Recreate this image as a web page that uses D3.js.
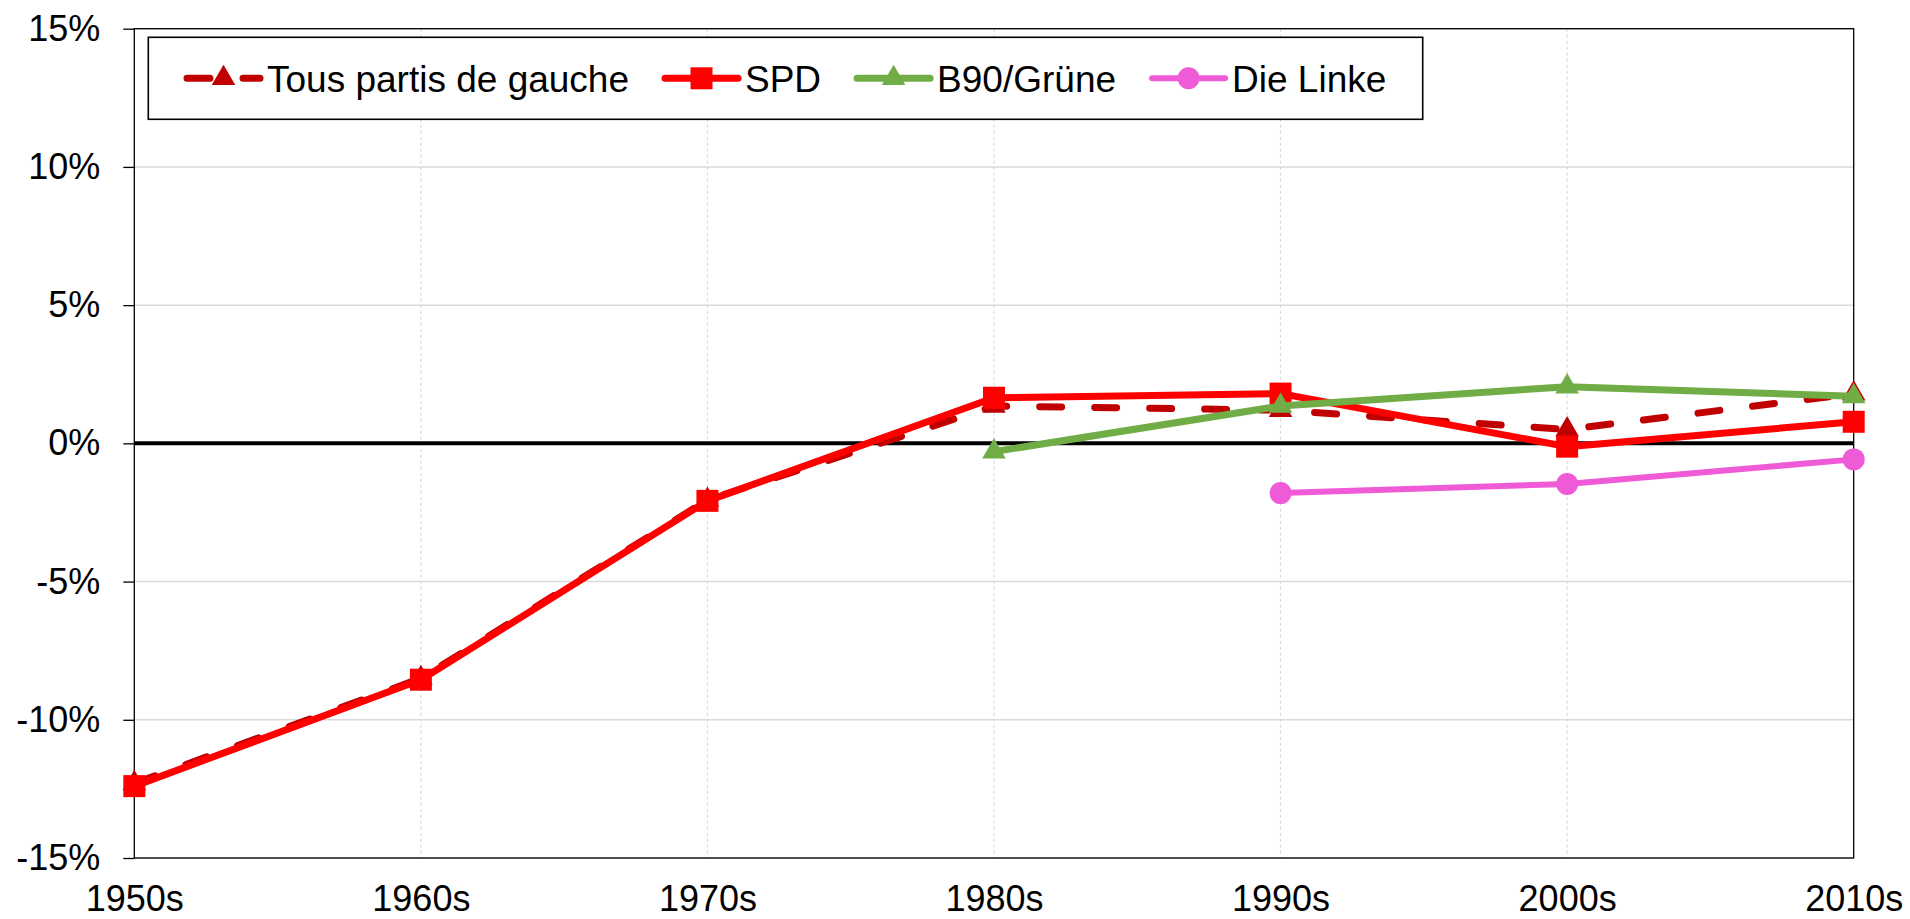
<!DOCTYPE html>
<html>
<head>
<meta charset="utf-8">
<script src="https://cdn.jsdelivr.net/npm/d3@7"></script>
<style>
  body { margin: 0; background: #fff; }
  svg { display: block; font-family: "Liberation Sans", Arial, sans-serif; }
</style>
</head>
<body>
<svg id="chart" width="1910" height="919"></svg>
<script>
// Data
const decades = ['1950s', '1960s', '1970s', '1980s', '1990s', '2000s', '2010s'];
const tousGauche = [-12.3, -8.5, -2.05, 1.35, 1.2, 0.5, 1.8];
const spd = [-12.4, -8.55, -2.08, 1.65, 1.8, -0.12, 0.78];
const gruene = [null, null, null, -0.3, 1.35, 2.05, 1.7];
const linke = [null, null, null, null, -1.8, -1.47, -0.58];
const yTicks = [-15, -10, -5, 0, 5, 10, 15];

const series = [
  { name: 'Tous partis de gauche', values: tousGauche, color: '#C00000', marker: 'triangle', dash: '22,33', width: 7 },
  { name: 'SPD', values: spd, color: '#FF0000', marker: 'square', dash: null, width: 7 },
  { name: 'B90/Grüne', values: gruene, color: '#70AD47', marker: 'triangle', dash: null, width: 7 },
  { name: 'Die Linke', values: linke, color: '#EF5BD6', marker: 'circle', dash: null, width: 6 }
];

const width = 1910;
const height = 919;
const margin = { top: 28.7, right: 56.3, bottom: 61, left: 134.3 };

const svg = d3.select('#chart');

const x = d3.scalePoint()
  .domain(decades)
  .range([margin.left, width - margin.right]);

const y = d3.scaleLinear()
  .domain([-15, 15])
  .range([height - margin.bottom, margin.top]);

// Gridlines
svg.append('g')
  .selectAll('line')
  .data(yTicks)
  .join('line')
  .attr('x1', margin.left)
  .attr('x2', width - margin.right)
  .attr('y1', d => y(d))
  .attr('y2', d => y(d))
  .attr('stroke', '#d9d9d9')
  .attr('stroke-width', 1.5);

svg.append('g')
  .selectAll('line')
  .data(decades.slice(1, -1))
  .join('line')
  .attr('x1', d => x(d))
  .attr('x2', d => x(d))
  .attr('y1', margin.top)
  .attr('y2', height - margin.bottom)
  .attr('stroke', '#d9d9d9')
  .attr('stroke-width', 1.2)
  .attr('stroke-dasharray', '3,3');

// Frame around the plot
svg.append('rect')
  .attr('x', margin.left)
  .attr('y', margin.top)
  .attr('width', width - margin.right - margin.left)
  .attr('height', height - margin.bottom - margin.top)
  .attr('fill', 'none')
  .attr('stroke', '#000')
  .attr('stroke-width', 1.3);

// Zero line
svg.append('line')
  .attr('x1', margin.left)
  .attr('x2', width - margin.right)
  .attr('y1', y(0))
  .attr('y2', y(0))
  .attr('stroke', '#000')
  .attr('stroke-width', 4);

// Axes
function yAxis(g) {
  g.attr('transform', `translate(${margin.left},0)`)
    .call(d3.axisLeft(y).tickValues(yTicks).tickFormat(d => d + '%').tickSize(11).tickPadding(23))
    .call(g => g.select('.domain').remove())
    .call(g => g.selectAll('.tick line').attr('stroke', '#000').attr('stroke-width', 1.3))
    .call(g => g.selectAll('text').attr('fill', '#000').style('font-size', '36px').attr('font-family', null));
}

function xAxis(g) {
  g.attr('transform', `translate(0,${height - margin.bottom})`)
    .call(d3.axisBottom(x).tickSize(0).tickPadding(27))
    .call(g => g.select('.domain').remove())
    .call(g => g.selectAll('text').attr('fill', '#000').style('font-size', '36px').attr('font-family', null));
}

svg.append('g').call(yAxis);
svg.append('g').call(xAxis);

// Marker shapes
function markerPath(type) {
  if (type === 'square') return d3.symbol(d3.symbolSquare, 22 * 22)();
  if (type === 'circle') return d3.symbol(d3.symbolCircle, Math.PI * 11 * 11)();
  return d3.symbol(d3.symbolTriangle, 240)();
}

// Lines and markers
const line = d3.line()
  .defined(d => d.value !== null)
  .x(d => x(d.decade))
  .y(d => y(d.value));

series.forEach(s => {
  const points = decades.map((dec, i) => ({ decade: dec, value: s.values[i] }));

  svg.append('path')
    .datum(points)
    .attr('fill', 'none')
    .attr('stroke', s.color)
    .attr('stroke-width', s.width)
    .attr('stroke-linecap', s.dash ? 'round' : 'butt')
    .attr('stroke-linejoin', 'round')
    .attr('stroke-dasharray', s.dash)
    .attr('d', line);

  svg.append('g')
    .selectAll('path')
    .data(points.filter(d => d.value !== null))
    .join('path')
    .attr('transform', d => `translate(${x(d.decade)},${y(d.value)})`)
    .attr('d', markerPath(s.marker))
    .attr('fill', s.color);
});

// Legend
const legend = svg.append('g');
const legY = 78.3;

legend.append('rect')
  .attr('x', 148.3)
  .attr('y', 37.3)
  .attr('width', 1422.7 - 148.3)
  .attr('height', 119.3 - 37.3)
  .attr('fill', '#fff')
  .attr('stroke', '#000')
  .attr('stroke-width', 1.6);

let cursor = 187;
series.forEach(s => {
  const item = legend.append('g');

  item.append('line')
    .attr('x1', cursor)
    .attr('x2', cursor + 73)
    .attr('y1', legY)
    .attr('y2', legY)
    .attr('stroke', s.color)
    .attr('stroke-width', s.width)
    .attr('stroke-linecap', 'round')
    .attr('stroke-dasharray', s.dash ? '23,33' : null);

  item.append('path')
    .attr('transform', `translate(${cursor + 36.5},${legY})`)
    .attr('d', markerPath(s.marker))
    .attr('fill', s.color);

  const label = item.append('text')
    .attr('x', cursor + 80)
    .attr('y', legY)
    .attr('dy', '0.36em')
    .style('font-size', '37px')
    .attr('fill', '#000')
    .text(s.name);

  cursor += 80 + label.node().getComputedTextLength() + 36;
});
</script>
</body>
</html>
